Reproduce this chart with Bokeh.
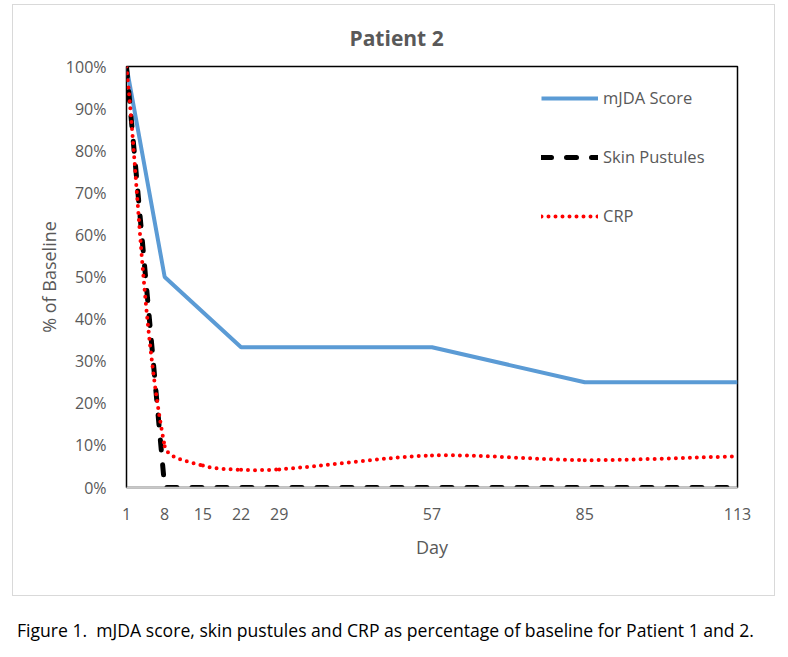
import math
from bokeh.plotting import figure
from bokeh.models import FixedTicker, PrintfTickFormatter, Div, Range1d
from bokeh.layouts import column
from bokeh.embed import file_html
from bokeh.resources import INLINE

# ---- data ----
days_mjda = [1, 8, 22, 57, 85, 113]
mjda = [100, 50, 33.3, 33.3, 25, 25]

days_skin = [1, 8, 15, 22, 29, 57, 85, 113]
skin = [100, 0, 0, 0, 0, 0, 0, 0]

days_crp = [1, 8, 15, 22, 29, 57, 85, 113]
crp = [100, 9.8, 5.2, 4.2, 4.3, 7.6, 6.5, 7.4]

x_ticks = [1, 8, 15, 22, 29, 57, 85, 113]
y_ticks = [0, 10, 20, 30, 40, 50, 60, 70, 80, 90, 100]

TXT = "#595959"
FONT = "Open Sans"

W, H = 763, 592
ML, MR, MT, MB = 113, 39, 61, 110
FW, FH = W - ML - MR, H - MT - MB

p = figure(width=W, height=H, output_backend="svg", toolbar_location=None,
           x_range=Range1d(1, 113), y_range=Range1d(0, 100),
           min_border_left=ML, min_border_right=MR,
           min_border_top=MT, min_border_bottom=MB,
           title="Patient 2")
p.styles = {"border": "1px solid #d9d9d9"}
p.margin = (4, 0, 0, 12)
p.xgrid.visible = False
p.ygrid.visible = False
p.outline_line_color = "black"
p.outline_line_width = 1.5
p.background_fill_color = "white"
p.border_fill_color = "white"

# title
p.title.align = "left"
p.title.offset = 223
p.title.standoff = 30
p.title.text_font = FONT
p.title.text_font_size = "21px"
p.title.text_font_style = "bold"
p.title.text_color = TXT

# axes
p.xaxis.ticker = FixedTicker(ticks=x_ticks)
p.yaxis.ticker = FixedTicker(ticks=y_ticks)
p.yaxis.formatter = PrintfTickFormatter(format="%d%%")
for ax in (p.xaxis[0], p.yaxis[0]):
    ax.major_tick_line_color = None
    ax.minor_tick_line_color = None
    ax.major_label_text_font = FONT
    ax.major_label_text_font_size = "16px"
    ax.major_label_text_color = TXT
    ax.axis_label_text_font = FONT
    ax.axis_label_text_font_size = "18px"
    ax.axis_label_text_color = TXT
    ax.axis_label_text_font_style = "normal"
p.xaxis.axis_line_color = "#c8c8c8"
p.xaxis.axis_line_width = 1.5
p.yaxis.axis_line_color = None
p.xaxis.major_label_standoff = 14
p.yaxis.major_label_standoff = 14
p.xaxis.axis_label = "Day"
p.yaxis.axis_label = "% of Baseline"
p.xaxis.axis_label_standoff = 12
p.yaxis.axis_label_standoff = 2

# series
p.line(days_mjda, mjda, line_color="#5B9BD5", line_width=4, legend_label="mJDA Score")
p.line(days_skin, skin, line_color="black", line_width=5, line_dash="10 15",
       line_cap="round", legend_label="Skin Pustules")

# smoothed CRP curve (Bezier segments through the data points, screen-space tangents)
sx = FW / (113 - 1)
sy = FH / 100.0
pts = [((d - 1) * sx, v * sy) for d, v in zip(days_crp, crp)]
n = len(pts)

def unit_tangent(i):
    a = pts[max(i - 1, 0)]
    b = pts[min(i + 1, n - 1)]
    dx, dy = b[0] - a[0], b[1] - a[1]
    L = math.hypot(dx, dy) or 1.0
    return dx / L, dy / L

x0s, y0s, x1s, y1s, cx0s, cy0s, cx1s, cy1s = [], [], [], [], [], [], [], []
for i in range(n - 1):
    a, b = pts[i], pts[i + 1]
    d = math.hypot(b[0] - a[0], b[1] - a[1]) / 3.0 * 0.9
    ta, tb = unit_tangent(i), unit_tangent(i + 1)
    c0 = (a[0] + ta[0] * d, a[1] + ta[1] * d)
    c1 = (b[0] - tb[0] * d, b[1] - tb[1] * d)
    x0s.append(days_crp[i]); y0s.append(crp[i])
    x1s.append(days_crp[i + 1]); y1s.append(crp[i + 1])
    cx0s.append(1 + c0[0] / sx); cy0s.append(c0[1] / sy)
    cx1s.append(1 + c1[0] / sx); cy1s.append(c1[1] / sy)

p.bezier(x0=x0s, y0=y0s, x1=x1s, y1=y1s, cx0=cx0s, cy0=cy0s, cx1=cx1s, cy1=cy1s,
         line_color="#FF0000", line_width=4, line_dash="0 7", line_cap="round",
         legend_label="CRP")

# legend
lg = p.legend[0]
lg.location = (415, 260)
lg.padding = 0
lg.margin = 0
lg.border_line_color = None
lg.background_fill_alpha = 0
lg.glyph_width = 57
lg.glyph_height = 20
lg.label_height = 20
lg.spacing = 36
lg.label_standoff = 5
lg.label_text_font = FONT
lg.label_text_font_size = "16.5px"
lg.label_text_color = TXT

cap = Div(text="Figure 1.&nbsp; mJDA score, skin pustules and CRP as percentage of baseline for Patient 1 and 2.",
          width=772, margin=(22, 0, 0, 17),
          styles={"font-family": "Open Sans", "font-size": "17.6px", "color": "black",
                  "white-space": "nowrap"})

layout = column(p, cap)
open("out.html", "w").write(file_html(layout, INLINE))
